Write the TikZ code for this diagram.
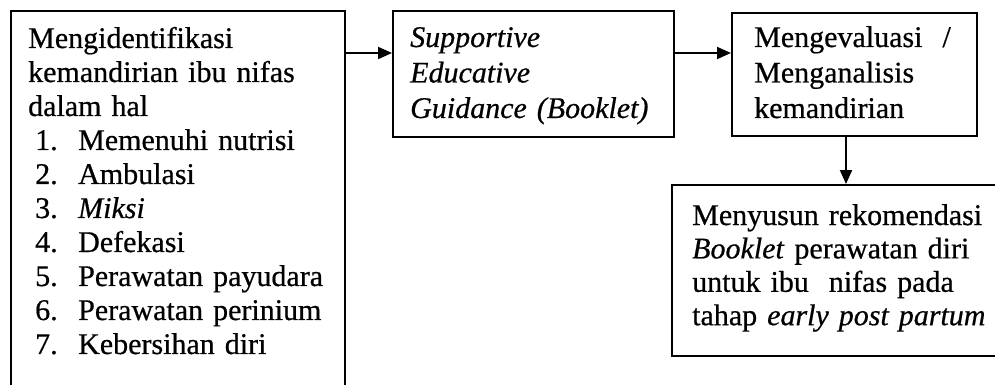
\documentclass[tikz,border=0pt]{standalone}
\usepackage{fontspec}
\setmainfont{Liberation Serif}[FakeBold=0.6]
\usetikzlibrary{arrows.meta}
\begin{document}
\begin{tikzpicture}[x=1pt,y=-1pt,
  box/.style={draw, line width=2pt, inner sep=0pt, anchor=north west},
  txt/.style={inner sep=0pt, anchor=base west, align=left, text width=#1},
  conn/.style={line width=2pt, -{Triangle[length=14pt,width=12pt]}}]
\useasboundingbox (0,0) rectangle (995,385);
% boxes
\node[box, minimum width=334pt, minimum height=382pt] (b1) at (10,10) {};
\node[box, minimum width=281pt, minimum height=126pt] (b2) at (392,10) {};
\node[box, minimum width=245pt, minimum height=123pt] (b3) at (731,12) {};
\node[box, minimum width=340pt, minimum height=171pt] (b4) at (671,184) {};
% texts
\node[txt=310pt, font=\fontsize{30}{34}\selectfont] (t1) at (28,48)
  {Mengidentifikasi\\
   kemandirian ibu nifas\\
   dalam hal\\
   \hspace*{7pt}\makebox[43pt][l]{1.}Memenuhi nutrisi\\
   \hspace*{7pt}\makebox[43pt][l]{2.}Ambulasi\\
   \hspace*{7pt}\makebox[43pt][l]{3.}\textit{Miksi}\\
   \hspace*{7pt}\makebox[43pt][l]{4.}Defekasi\\
   \hspace*{7pt}\makebox[43pt][l]{5.}Perawatan payudara\\
   \hspace*{7pt}\makebox[43pt][l]{6.}Perawatan perinium\\
   \hspace*{7pt}\makebox[43pt][l]{7.}Kebersihan diri};
\node[txt=260pt, font=\fontsize{30}{35.5}\selectfont\itshape] (t2) at (410,47)
  {Supportive\\ Educative\\ Guidance (Booklet)};
\node[txt=220pt, font=\fontsize{30}{35.5}\selectfont] (t3) at (754,47)
  {Mengevaluasi~~/\\ Menganalisis\\ kemandirian};
\node[txt=300pt, font=\fontsize{30}{33.4}\selectfont] (t4) at (692,225)
  {Menyusun rekomendasi\\ \textit{Booklet} perawatan diri\\ untuk ibu~~nifas pada\\ tahap \textit{early post partum}};
% connectors
\coordinate (r1) at (0,53);
\coordinate (c3) at (846,0);
\draw[conn] (b1.east |- r1) -- (b2.west |- r1);
\draw[conn] (b2.east |- r1) -- (b3.west |- r1);
\draw[conn] (b3.south -| c3) -- (b4.north -| c3);
\end{tikzpicture}
\end{document}
